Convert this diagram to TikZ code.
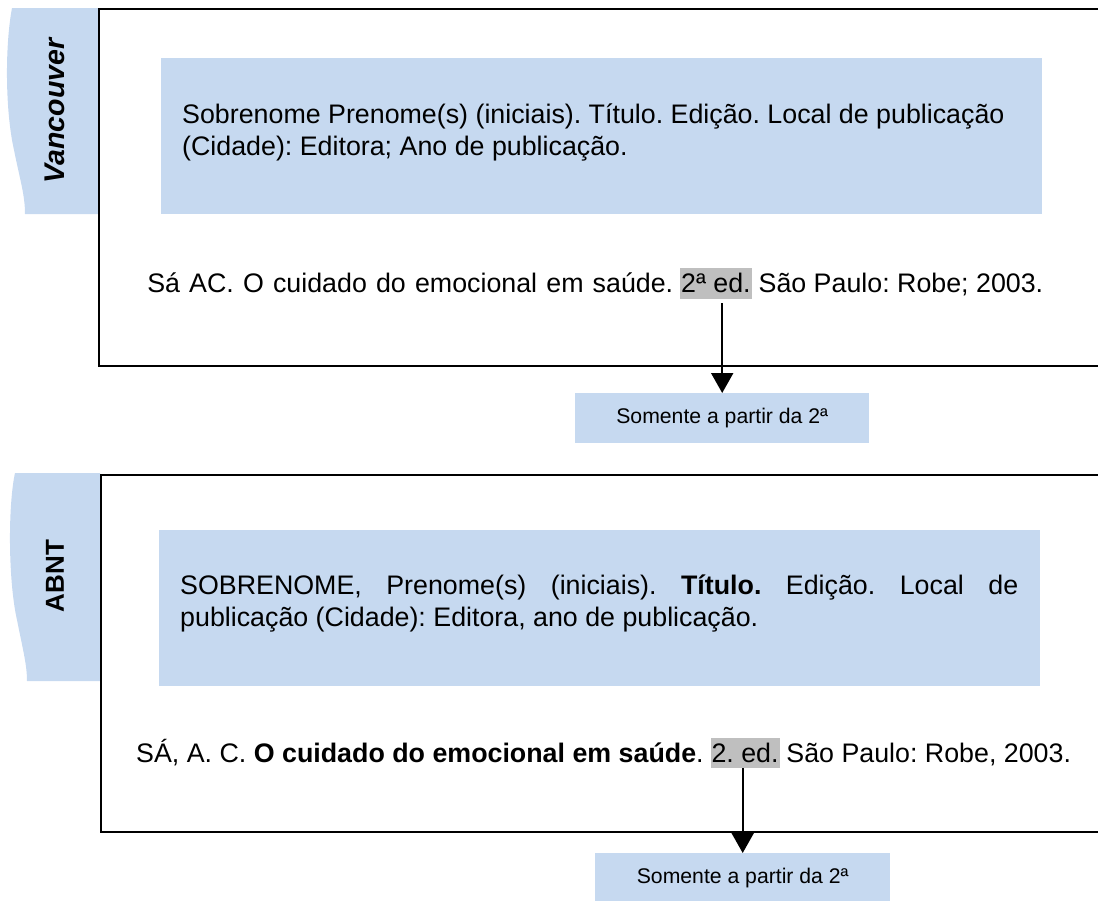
\documentclass[tikz,border=0pt]{standalone}
\usepackage{fontspec}
\setmainfont{Liberation Sans}
\usetikzlibrary{arrows.meta}
\definecolor{lblue}{HTML}{C6D9F0}
\definecolor{hgray}{HTML}{BFBFBF}
\frenchspacing
\tikzset{
  tabfill/.style={fill=lblue, draw=none},
  frame/.style={line width=2pt, black},
  bluebox/.style={fill=lblue, draw=none, inner sep=0pt},
  maintext/.style={inner sep=0pt, font=\fontsize{26.8}{32}\selectfont},
  hl/.style={maintext, fill=hgray, inner xsep=1pt, text height=24pt, text depth=7pt},
  smallbox/.style={fill=lblue, draw=none, inner sep=0pt, font=\fontsize{21.2}{24}\selectfont},
  tablabel/.style={inner sep=0pt, rotate=90, font=\fontsize{26}{30}\selectfont\bfseries},
  arr/.style={line width=2pt, -{Triangle[width=22pt,length=20pt]}}
}
\begin{document}
\begin{tikzpicture}[x=1pt,y=-1pt]
\useasboundingbox (0,0) rectangle (1098,900);
\clip (0,0) rectangle (1098,900);
% ---------- Vancouver ----------
\path[tabfill] (98,8) -- (12,8) .. controls (5,45) and (5,110) .. (14,150)
  .. controls (20,180) and (25,195) .. (25,214) -- (98,214) -- cycle;
\node[tablabel, font=\fontsize{28.5}{30}\selectfont\bfseries\itshape] (tv) at (55,111) {Vancouver};
\node[bluebox, minimum width=881pt, minimum height=156pt, anchor=north west] (b1) at (160.7,58) {};
\node[maintext, anchor=base west, align=left] (t1) at (182,155)
  {Sobrenome Prenome(s) (iniciais). Título. Edição. Local de publicação\\(Cidade): Editora; Ano de publicação.};
\node[hl, anchor=base west] (v2) at (680,292) {2ª ed.};
\node[maintext, anchor=base east] (v1) at ([xshift=-6.5pt]v2.base west) {\makebox[526pt][s]{Sá AC. O cuidado do emocional em saúde.}};
\node[maintext, anchor=base west] (v3) at ([xshift=6.5pt]v2.base east) {São Paulo: Robe; 2003.};
\draw[frame] (1110,9) -- (98.5,9) -- (98.5,366) -- (1110,366);
\node[smallbox, minimum width=294pt, minimum height=50pt, anchor=north west] (s1) at (575,393) {Somente a partir da 2ª};
\draw[arr, shorten <=4pt] (v2.south -| s1.north) -- (s1.north);
% ---------- ABNT ----------
\path[tabfill] (100,473) -- (15,473) .. controls (8,505) and (8,580) .. (17,620)
  .. controls (23,650) and (27,665) .. (27,681) -- (100,681) -- cycle;
\node[tablabel] (ta) at (55,576) {ABNT};
\node[bluebox, minimum width=881pt, minimum height=156pt, anchor=north west] (b2) at (158.7,530) {};
\node[maintext, anchor=base west, align=left] (t2) at (180,626)
  {\makebox[838pt][s]{SOBRENOME, Prenome(s) (iniciais). \textbf{Título.} Edição. Local de}\\publicação (Cidade): Editora, ano de publicação.};
\node[maintext, anchor=base west] (a1) at (136,762) {SÁ, A. C. \textbf{O cuidado do emocional em saúde}.};
\node[hl, anchor=base west, text depth=6pt] (a2) at ([xshift=6.5pt]a1.base east) {2. ed.};
\node[maintext, anchor=base west] (a3) at ([xshift=6.5pt]a2.base east) {São Paulo: Robe, 2003.};
\draw[frame] (1110,475) -- (100.5,475) -- (100.5,832) -- (1110,832);
\node[smallbox, minimum width=295pt, minimum height=50pt, anchor=north west] (s2) at (595,853) {Somente a partir da 2ª};
\draw[arr] (a2.south -| s2.north) -- (s2.north);
\end{tikzpicture}
\end{document}
